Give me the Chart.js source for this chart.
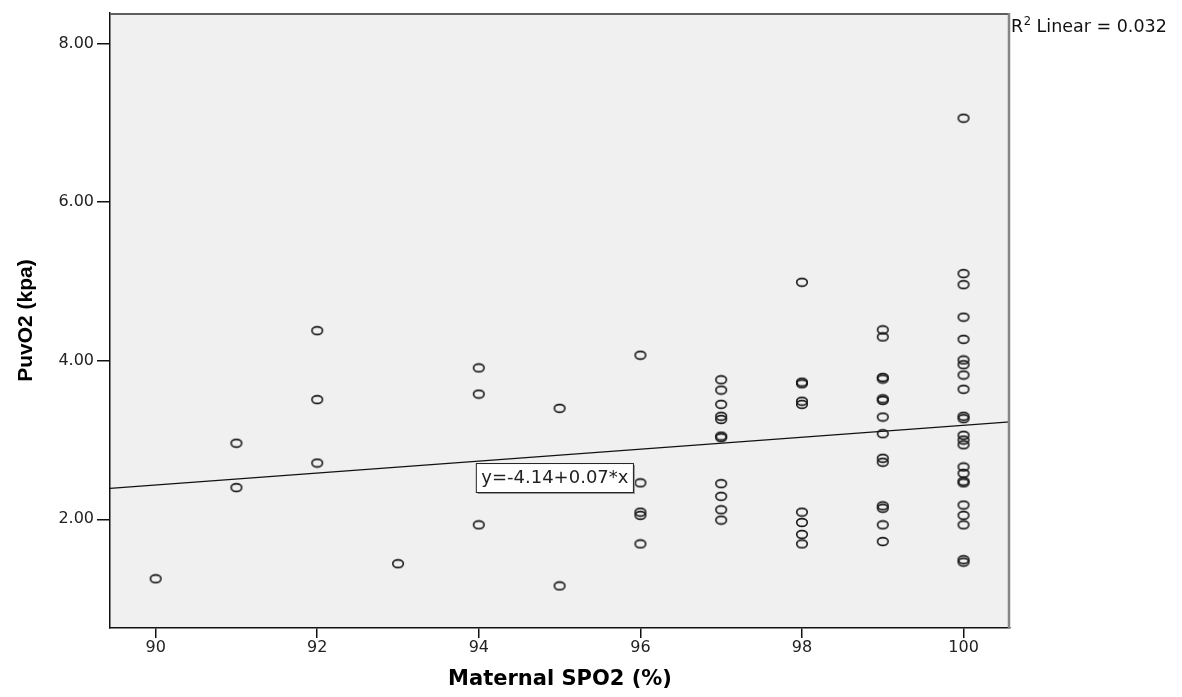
<!DOCTYPE html>
<html>
<head>
<meta charset="utf-8">
<script src="https://cdn.jsdelivr.net/npm/chart.js@4/dist/chart.umd.min.js"></script>
<style>
  html, body { margin: 0; padding: 0; background: #ffffff; }
  canvas { display: block; }
</style>
</head>
<body>
<canvas id="c" width="1182" height="697"></canvas>
<script>
// ---- data ----
const spo2 = [
  90,
  91, 91,
  92, 92, 92,
  93,
  94, 94, 94,
  95, 95,
  96, 96, 96, 96, 96,
  97, 97, 97, 97, 97, 97, 97, 97, 97, 97, 97,
  98, 98, 98, 98, 98, 98, 98, 98, 98,
  99, 99, 99, 99, 99, 99, 99, 99, 99, 99, 99, 99, 99, 99,
  100, 100, 100, 100, 100, 100, 100, 100, 100, 100, 100, 100,
  100, 100, 100, 100, 100, 100, 100, 100, 100, 100, 100
];
const puvo2 = [
  1.25,
  2.96, 2.40,
  4.38, 3.51, 2.71,
  1.44,
  3.91, 3.58, 1.93,
  3.40, 1.16,
  4.07, 2.46, 2.09, 2.05, 1.69,
  3.76, 3.63, 3.45, 3.30, 3.26, 3.05, 3.03, 2.45, 2.29, 2.12, 1.99,
  4.99, 3.73, 3.71, 3.49, 3.45, 2.09, 1.96, 1.81, 1.69,
  4.39, 4.30, 3.79, 3.77, 3.52, 3.50, 3.29, 3.08, 2.77, 2.72, 2.17, 2.14, 1.93, 1.72,
  7.06, 5.10, 4.96, 4.55, 4.27, 4.01, 3.95, 3.82, 3.64, 3.30, 3.27, 3.06,
  3.00, 2.94, 2.66, 2.58, 2.48, 2.46, 2.18, 2.05, 1.93, 1.49, 1.46
];
const fitX = [89.435, 100.575];
const fitY = [2.39, 3.23];
const xTicks = [90, 92, 94, 96, 98, 100];
const yTicks = [2, 4, 6, 8];
const xRange = [89.435, 100.575];
const yRange = [0.629, 8.387];
const xTitle = 'Maternal SPO2 (%)';
const yTitle = 'PuvO2 (kpa)';
const equationText = 'y=-4.14+0.07*x';
const equationAnchor = [93.963, 2.71];
const r2Label = ['R', '2', ' Linear = 0.032'];

// ---- hollow elliptical marker like SPSS ----
const ring = document.createElement('canvas');
ring.width = 14; ring.height = 11;
(function () {
  const g = ring.getContext('2d');
  g.strokeStyle = '#161616';
  g.lineWidth = 1.6;
  g.beginPath();
  g.ellipse(7, 5.5, 5.3, 3.9, 0, 0, Math.PI * 2);
  g.stroke();
})();

const points = spo2.map((x, i) => ({ x: x, y: puvo2[i] }));
const fitLine = fitX.map((x, i) => ({ x: x, y: fitY[i] }));

const framePlugin = {
  id: 'spssFrame',
  beforeDraw(chart) {
    const { ctx, chartArea: a } = chart;
    ctx.save();
    ctx.fillStyle = '#f0f0f0';
    ctx.fillRect(a.left, a.top, a.right - a.left, a.bottom - a.top);
    ctx.restore();
  },
  afterDatasetsDraw(chart) {
    const { ctx, chartArea: a, scales } = chart;
    ctx.save();
    // top & right frame
    ctx.strokeStyle = '#5e5e5e';
    ctx.lineWidth = 2;
    ctx.beginPath();
    ctx.moveTo(a.left, a.top + 1);
    ctx.lineTo(a.right, a.top + 1);
    ctx.stroke();
    ctx.strokeStyle = '#858585';
    ctx.lineWidth = 2.5;
    ctx.beginPath();
    ctx.moveTo(a.right - 1, a.top);
    ctx.lineTo(a.right - 1, a.bottom);
    ctx.stroke();

    // equation box
    const bx = scales.x.getPixelForValue(equationAnchor[0]);
    const by = scales.y.getPixelForValue(equationAnchor[1]);
    ctx.font = '18px "DejaVu Sans"';
    const tw = ctx.measureText(equationText).width;
    const bw = tw + 10, bh = 29;
    ctx.fillStyle = '#ffffff';
    ctx.fillRect(bx, by, bw, bh);
    ctx.strokeStyle = '#9a9a9a';
    ctx.lineWidth = 2;
    ctx.beginPath();
    ctx.moveTo(bx + bw + 1, by + 2);
    ctx.lineTo(bx + bw + 1, by + bh + 1);
    ctx.lineTo(bx + 2, by + bh + 1);
    ctx.stroke();
    ctx.strokeStyle = '#222';
    ctx.lineWidth = 1;
    ctx.strokeRect(bx + 0.5, by + 0.5, bw, bh);
    ctx.fillStyle = '#222';
    ctx.textBaseline = 'middle';
    ctx.textAlign = 'left';
    ctx.fillText(equationText, bx + 5.5, by + bh / 2 + 1);

    // R² label
    let tx = a.right + 1;
    const ty = 31.5;
    ctx.textBaseline = 'alphabetic';
    ctx.font = '17.5px "DejaVu Sans"';
    ctx.fillStyle = '#111';
    ctx.fillText(r2Label[0], tx, ty);
    tx += ctx.measureText(r2Label[0]).width;
    ctx.font = '11.5px "DejaVu Sans"';
    ctx.fillText(r2Label[1], tx + 0.5, ty - 7);
    tx += ctx.measureText(r2Label[1]).width + 0.5;
    ctx.font = '17.5px "DejaVu Sans"';
    ctx.fillText(r2Label[2], tx, ty);
    ctx.restore();
  }
};

new Chart(document.getElementById('c'), {
  type: 'scatter',
  data: {
    datasets: [
      {
        type: 'scatter',
        data: points,
        pointStyle: ring,
        pointRadius: 6,
        pointHoverRadius: 6,
        order: 1
      },
      {
        type: 'line',
        data: fitLine,
        borderColor: '#111',
        borderWidth: 1.3,
        pointRadius: 0,
        fill: false,
        tension: 0,
        order: 2
      }
    ]
  },
  options: {
    responsive: false,
    animation: false,
    events: [],
    layout: { padding: { top: 13, right: 172, left: 0, bottom: 0 } },
    plugins: { legend: { display: false }, tooltip: { enabled: false } },
    scales: {
      x: {
        type: 'linear',
        min: xRange[0],
        max: xRange[1],
        afterBuildTicks: s => { s.ticks = xTicks.map(v => ({ value: v })); },
        afterFit: s => { s.height = 69; },
        ticks: {
          callback: v => String(v),
          font: { family: 'DejaVu Sans', size: 16 },
          color: '#222',
          padding: 0,
          maxRotation: 0,
          autoSkip: false
        },
        grid: { drawOnChartArea: false, drawTicks: true, tickLength: 10, color: '#111', lineWidth: 1.5 },
        border: { display: true, color: '#111', width: 1.5 },
        title: {
          display: true,
          text: xTitle,
          font: { family: 'DejaVu Sans', size: 21, weight: 'bold' },
          color: '#000',
          padding: { top: 0, bottom: 5 }
        }
      },
      y: {
        type: 'linear',
        min: yRange[0],
        max: yRange[1],
        afterBuildTicks: s => { s.ticks = yTicks.map(v => ({ value: v })); },
        afterFit: s => { s.width = 110; },
        ticks: {
          callback: v => Number(v).toFixed(2),
          font: { family: 'DejaVu Sans', size: 16 },
          color: '#222',
          padding: 3,
          autoSkip: false
        },
        grid: { drawOnChartArea: false, drawTicks: true, tickLength: 13, color: '#111', lineWidth: 1.5 },
        border: { display: true, color: '#111', width: 1.5 },
        title: {
          display: true,
          text: yTitle,
          font: { family: 'Liberation Sans', size: 21, weight: 'bold' },
          color: '#000',
          padding: { top: 14, bottom: 0 }
        }
      }
    }
  },
  plugins: [framePlugin]
});
</script>
</body>
</html>
